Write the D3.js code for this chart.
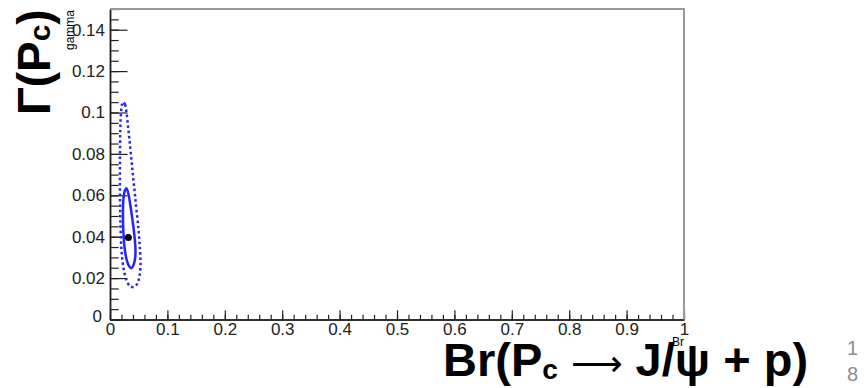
<!DOCTYPE html>
<html>
<head>
<meta charset="utf-8">
<script src="https://cdn.jsdelivr.net/npm/d3@7"></script>
<style>
  body { margin: 0; background: #fff; }
  text { font-family: "Liberation Sans", Arial, Helvetica, sans-serif; }
</style>
</head>
<body>
<div id="chart"></div>
<script>
// Best fit point (Br, gamma)
var bestFit = [0.032, 0.0396];

// 1 sigma contour (solid)
var contour1 = [
  [0.0287, 0.0634], [0.0322, 0.0605], [0.0357, 0.0547], [0.0392, 0.048],
  [0.0427, 0.0402], [0.0444, 0.0335], [0.0436, 0.0292], [0.0409, 0.0263],
  [0.0375, 0.0248], [0.0331, 0.0258], [0.0287, 0.0292], [0.0253, 0.0349],
  [0.0232, 0.0431], [0.0226, 0.0518], [0.0235, 0.0586], [0.0261, 0.0624]
];

// 2 sigma contour (dotted)
var contour2 = [
  [0.0232, 0.1051], [0.0261, 0.1039], [0.0287, 0.1], [0.0322, 0.0913],
  [0.0366, 0.0793], [0.0409, 0.0672], [0.0453, 0.0552], [0.0497, 0.0431],
  [0.0523, 0.0335], [0.0531, 0.0263], [0.0514, 0.021], [0.047, 0.0171],
  [0.0409, 0.0157], [0.0348, 0.0161], [0.0287, 0.019], [0.0235, 0.0248],
  [0.02, 0.0335], [0.0183, 0.0455], [0.0174, 0.06], [0.0174, 0.0769],
  [0.0179, 0.0913], [0.0192, 0.1], [0.0209, 0.1039]
];

// Axis ticks
var xMajor = [0, 0.1, 0.2, 0.3, 0.4, 0.5, 0.6, 0.7, 0.8, 0.9, 1];
var yMajor = [0, 0.02, 0.04, 0.06, 0.08, 0.1, 0.12, 0.14];
var xDomain = [0, 1];
var yDomain = [0, 0.15];

(function () {
  var width = 865, height = 388;
  var mLeft = 110, mRight = 684, mTop = 9, mBottom = 319.5;

  var svg = d3.select("#chart").append("svg")
    .attr("width", width)
    .attr("height", height);

  var x = d3.scaleLinear().domain(xDomain).range([mLeft, mRight]);
  var y = d3.scaleLinear().domain(yDomain).range([mBottom, mTop]);

  function fmt(d) { return String(+d.toFixed(3)); }

  // minor ticks
  var xMinor = d3.range(0, 1.0001, 0.02);
  var yMinor = d3.range(0, 0.1501, 0.005);

  svg.append("g")
    .attr("transform", "translate(0," + mBottom + ")")
    .call(d3.axisBottom(x).tickValues(xMinor).tickSize(-4.7).tickSizeOuter(0).tickFormat(""));
  svg.append("g")
    .attr("transform", "translate(0," + mBottom + ")")
    .attr("class", "xmaj")
    .call(d3.axisBottom(x).tickValues(xMajor).tickSize(-9.3).tickSizeOuter(0).tickPadding(3).tickFormat(fmt));

  svg.append("g")
    .attr("transform", "translate(" + mLeft + ",0)")
    .call(d3.axisLeft(y).tickValues(yMinor).tickSize(-8.7).tickSizeOuter(0).tickFormat(""));
  svg.append("g")
    .attr("transform", "translate(" + mLeft + ",0)")
    .attr("class", "ymaj")
    .call(d3.axisLeft(y).tickValues(yMajor).tickSize(-17.5).tickSizeOuter(0).tickPadding(5).tickFormat(fmt));

  svg.selectAll(".domain").attr("stroke", "#222").attr("stroke-width", 1.5);
  svg.selectAll(".tick line").attr("stroke", "#222").attr("stroke-width", 1.2);
  svg.selectAll(".tick text")
    .attr("fill", "#222")
    .style("font-size", "17px")
    .style("font-family", "'Liberation Sans', Arial, sans-serif");

  // nudge the y zero label up a little, like the original
  svg.selectAll(".ymaj .tick text").filter(function (d) { return d === 0; })
    .attr("dy", "0.1em").attr("x", -8);

  // frame top / right
  svg.append("path")
    .attr("d", "M" + mLeft + "," + mTop + "H" + mRight + "V" + mBottom)
    .attr("fill", "none")
    .attr("stroke", "#999")
    .attr("stroke-width", 2);

  // contours
  var line = d3.line()
    .x(function (d) { return x(d[0]); })
    .y(function (d) { return y(d[1]); })
    .curve(d3.curveCatmullRomClosed);

  svg.append("path")
    .datum(contour2)
    .attr("d", line)
    .attr("fill", "none")
    .attr("stroke", "#2424f5")
    .attr("stroke-width", 2.5)
    .attr("stroke-dasharray", "2.5,2.8");

  svg.append("path")
    .datum(contour1)
    .attr("d", line)
    .attr("fill", "none")
    .attr("stroke", "#2424f5")
    .attr("stroke-width", 2.5);

  svg.append("circle")
    .attr("cx", x(bestFit[0]))
    .attr("cy", y(bestFit[1]))
    .attr("r", 3.5)
    .attr("fill", "#000");

  // small axis titles
  svg.append("text")
    .attr("x", mRight)
    .attr("y", 346)
    .attr("text-anchor", "end")
    .style("font-size", "12px")
    .text("Br");

  svg.append("text")
    .attr("transform", "translate(74," + (mTop + 1) + ") rotate(-90)")
    .attr("text-anchor", "end")
    .style("font-size", "12px")
    .text("gamma");

  // big titles
  var yt = svg.append("text")
    .attr("transform", "translate(50,115) rotate(-90)")
    .style("font-size", "46px")
    .style("font-weight", "bold");
  yt.append("tspan").text("Γ(P");
  yt.append("tspan").style("font-size", "30px").text("c");
  yt.append("tspan").text(")");

  var xt = svg.append("text")
    .attr("x", 443)
    .attr("y", 376)
    .style("font-size", "47px")
    .style("font-weight", "bold");
  xt.append("tspan").text("Br(P");
  xt.append("tspan").style("font-size", "28px").attr("dy", 3).text("c");
  xt.append("tspan").attr("dy", -3).text(" ");
  xt.append("tspan").style("font-family", "'DejaVu Sans'").style("font-weight", "normal")
    .style("font-size", "36px").text("⟶");
  xt.append("tspan").text(" J/ψ + p)");

  // slide number
  svg.append("text").attr("x", 847).attr("y", 355)
    .style("font-size", "20px").attr("fill", "#8c8c8c").text("1");
  svg.append("text").attr("x", 847).attr("y", 381)
    .style("font-size", "20px").attr("fill", "#8c8c8c").text("8");
})();
</script>
</body>
</html>
